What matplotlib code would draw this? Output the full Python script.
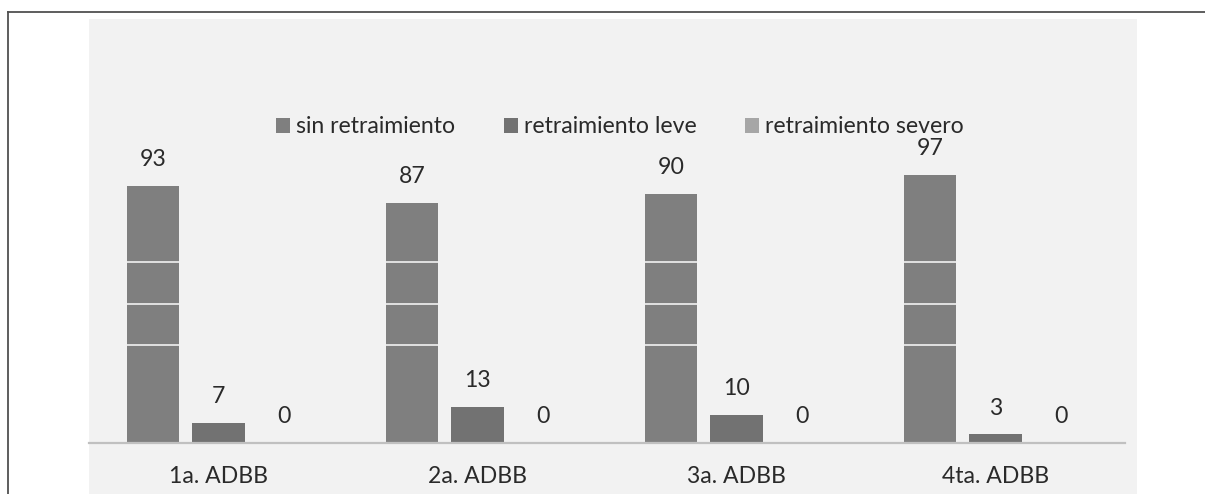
import numpy as np
import matplotlib.pyplot as plt
from matplotlib.patches import Patch, Rectangle
from matplotlib.lines import Line2D

plt.rcParams['font.family'] = ['Lato', 'DejaVu Sans']

# data
categories = ['1a. ADBB', '2a. ADBB', '3a. ADBB', '4ta. ADBB']
series_names = ['sin retraimiento', 'retraimiento leve', 'retraimiento severo']
sin_retraimiento = [93, 87, 90, 97]
retraimiento_leve = [7, 13, 10, 3]
retraimiento_severo = [0, 0, 0, 0]
gridline_values = [35.5, 50.4, 65.4]

colors = ['#7f7f7f', '#727272', '#a6a6a6']
fs = 16.6
txt = '#2a2a2a'

W, H = 1205, 494
fig = plt.figure(figsize=(W / 100, H / 100), dpi=100)

# outer frame (top and left only) and chart area background
fig.add_artist(Line2D([8 / W, 1], [1 - 12.3 / H, 1 - 12.3 / H], color='#505050', lw=1.3))
fig.add_artist(Line2D([8 / W, 8 / W], [0, 1 - 12.3 / H], color='#505050', lw=1.3))
fig.add_artist(Rectangle((89 / W, 0), (1137 - 89) / W, (H - 19) / H,
                         facecolor='#f2f2f2', edgecolor='none', zorder=0))

ax = fig.add_axes([89 / W, 1 - 442.7 / H, (1125 - 89) / W, (442.7 - 19) / H])
ax.set_facecolor('none')

x = np.arange(len(categories))
pitch = 0.252
width = 0.202
all_series = [sin_retraimiento, retraimiento_leve, retraimiento_severo]
for i, vals in enumerate(all_series):
    pos = x + (i - 1) * pitch
    ax.bar(pos, vals, width, color=colors[i], zorder=2)
    for xp, v in zip(pos, vals):
        ax.annotate(str(v), (xp, v), xytext=(0, 19), textcoords='offset points',
                    ha='center', va='center', fontsize=fs, color=txt)

for g in gridline_values:
    ax.axhline(g, color='#f2f2f2', lw=1.2, zorder=3)

ax.set_xlim(-0.5, 3.5)
ax.set_ylim(0, (442.7 - 19) / 2.76)
ax.set_xticks(x)
ax.set_xticklabels(categories, fontsize=fs, color=txt)
ax.tick_params(axis='x', length=0, pad=17)
ax.set_yticks([])
for s in ['top', 'left', 'right']:
    ax.spines[s].set_visible(False)
ax.spines['bottom'].set_color('#c0c0c0')
ax.spines['bottom'].set_linewidth(1.6)

handles = [Patch(facecolor=c, edgecolor='none') for c in colors]
fig.legend(handles, series_names, loc='center', bbox_to_anchor=(620 / W, 1 - 126.7 / H),
           ncol=3, frameon=False, fontsize=fs, handlelength=0.62, handleheight=0.62,
           handletextpad=0.25, columnspacing=2.1, labelcolor=txt)

plt.savefig('out.png', dpi=100)
